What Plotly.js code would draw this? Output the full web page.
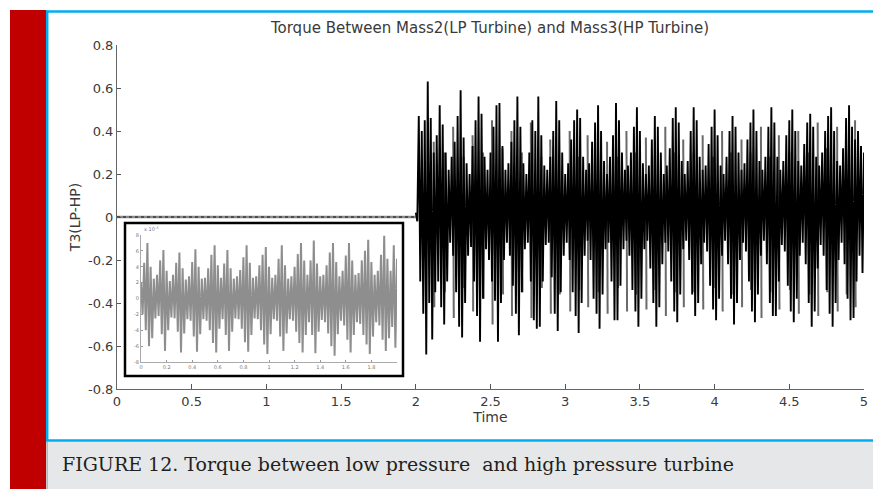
<!DOCTYPE html>
<html>
<head>
<meta charset="utf-8">
<script src="https://cdn.plot.ly/plotly-3.0.1.min.js"></script>
<style>
  html, body { margin: 0; padding: 0; background: #ffffff; }
  #chart { width: 873px; height: 489px; }
</style>
</head>
<body>
<div id="chart"></div>
<script>
// ---------------- data ----------------
const chartTitle = 'Torque Between Mass2(LP Turbine) and Mass3(HP Turbine)';
const xTitle = 'Time';
const yTitle = 'T3(LP-HP)';
const captionText = 'FIGURE 12. Torque between low pressure&nbsp; and high pressure turbine';

const xTickVals = [0, 0.5, 1, 1.5, 2, 2.5, 3, 3.5, 4, 4.5, 5];
const xTickText = ['0', '0.5', '1', '1.5', '2', '2.5', '3', '3.5', '4', '4.5', '5'];
const yTickVals = [-0.8, -0.6, -0.4, -0.2, 0, 0.2, 0.4, 0.6, 0.8];
const yTickText = ['-0.8', '-0.6', '-0.4', '-0.2', '0', '0.2', '0.4', '0.6', '0.8'];

// pre-fault segment (flat at zero)
const preFaultT = [0, 2];
const preFaultV = [0, 0];

// post-fault oscillation: upper / lower excursion of each sample (t = 2.00 ... 5.00, every 0.02 s)
const faultStart = 2.0;
const sampleStep = 0.02;
const sigHi = [
  0.02, 0.47, 0.40, 0.45, 0.63, 0.46, 0.30, 0.38, 0.52, 0.43,
  0.30, 0.22, 0.28, 0.35, 0.47, 0.59, 0.37, 0.25, 0.20, 0.33,
  0.45, 0.56, 0.48, 0.28, 0.22, 0.30, 0.42, 0.52, 0.53, 0.33,
  0.22, 0.25, 0.35, 0.45, 0.56, 0.42, 0.25, 0.20, 0.30, 0.45,
  0.40, 0.56, 0.38, 0.24, 0.22, 0.28, 0.40, 0.54, 0.45, 0.30,
  0.20, 0.25, 0.36, 0.45, 0.50, 0.46, 0.28, 0.22, 0.25, 0.35,
  0.44, 0.52, 0.40, 0.26, 0.20, 0.28, 0.38, 0.53, 0.45, 0.30,
  0.22, 0.24, 0.30, 0.42, 0.51, 0.40, 0.25, 0.20, 0.24, 0.36,
  0.47, 0.42, 0.30, 0.20, 0.24, 0.32, 0.46, 0.51, 0.44, 0.26,
  0.20, 0.26, 0.40, 0.51, 0.45, 0.28, 0.22, 0.24, 0.34, 0.42,
  0.50, 0.38, 0.24, 0.20, 0.28, 0.40, 0.47, 0.42, 0.30, 0.22,
  0.25, 0.36, 0.44, 0.50, 0.40, 0.26, 0.22, 0.28, 0.42, 0.51,
  0.44, 0.28, 0.22, 0.26, 0.38, 0.45, 0.50, 0.40, 0.26, 0.24,
  0.34, 0.44, 0.48, 0.42, 0.28, 0.24, 0.30, 0.40, 0.47, 0.51,
  0.40, 0.26, 0.24, 0.32, 0.46, 0.52, 0.42, 0.36, 0.40, 0.33,
  0.30
];
const sigLo = [
  -0.02, -0.30, -0.45, -0.64, -0.40, -0.57, -0.35, -0.30, -0.42, -0.50,
  -0.30, -0.12, -0.18, -0.35, -0.51, -0.56, -0.40, -0.18, -0.14, -0.30,
  -0.46, -0.58, -0.38, -0.15, -0.20, -0.30, -0.39, -0.58, -0.40, -0.20,
  -0.12, -0.18, -0.32, -0.45, -0.55, -0.35, -0.15, -0.12, -0.30, -0.48,
  -0.52, -0.51, -0.30, -0.13, -0.12, -0.28, -0.45, -0.53, -0.35, -0.18,
  -0.12, -0.20, -0.35, -0.46, -0.54, -0.40, -0.18, -0.11, -0.20, -0.38,
  -0.45, -0.52, -0.36, -0.15, -0.12, -0.30, -0.48, -0.48, -0.32, -0.15,
  -0.11, -0.18, -0.34, -0.44, -0.51, -0.38, -0.15, -0.11, -0.24, -0.40,
  -0.51, -0.42, -0.22, -0.12, -0.16, -0.30, -0.44, -0.49, -0.36, -0.15,
  -0.11, -0.20, -0.36, -0.46, -0.40, -0.22, -0.12, -0.16, -0.32, -0.43,
  -0.48, -0.38, -0.18, -0.11, -0.22, -0.38, -0.50, -0.40, -0.20, -0.12,
  -0.16, -0.30, -0.44, -0.49, -0.36, -0.18, -0.11, -0.22, -0.40, -0.46,
  -0.46, -0.30, -0.13, -0.16, -0.32, -0.44, -0.49, -0.38, -0.18, -0.12,
  -0.22, -0.40, -0.51, -0.44, -0.24, -0.13, -0.18, -0.34, -0.45, -0.51,
  -0.40, -0.20, -0.12, -0.22, -0.38, -0.48, -0.47, -0.30, -0.18, -0.26,
  -0.10
];

// grey secondary swings next to the main spikes
const greyT = [2.12, 2.19, 2.25, 2.32, 2.38, 2.45, 2.51, 2.58, 2.64, 2.71, 2.77, 2.84, 2.90, 2.96, 3.03,
  3.09, 3.15, 3.22, 3.28, 3.35, 3.41, 3.47, 3.54, 3.60, 3.67, 3.73, 3.79, 3.86, 3.92, 3.99,
  4.05, 4.11, 4.18, 4.24, 4.31, 4.37, 4.43, 4.50, 4.56, 4.63, 4.69, 4.75, 4.82, 4.88, 4.94];
const greyHi = [0.35, 0.30, 0.42, 0.28, 0.38, 0.30, 0.45, 0.32, 0.40, 0.30, 0.44, 0.28, 0.36, 0.30, 0.40,
  0.28, 0.38, 0.30, 0.35, 0.28, 0.40, 0.30, 0.37, 0.28, 0.42, 0.30, 0.36, 0.30, 0.38, 0.28,
  0.40, 0.30, 0.36, 0.30, 0.42, 0.28, 0.38, 0.30, 0.40, 0.30, 0.44, 0.32, 0.42, 0.30, 0.45];
const greyLo = [-0.42, -0.35, -0.47, -0.33, -0.44, -0.38, -0.50, -0.36, -0.46, -0.35, -0.47, -0.33, -0.45, -0.36, -0.44,
  -0.34, -0.42, -0.35, -0.45, -0.33, -0.44, -0.36, -0.43, -0.34, -0.46, -0.35, -0.42, -0.35, -0.43, -0.33,
  -0.44, -0.36, -0.42, -0.34, -0.47, -0.35, -0.43, -0.34, -0.45, -0.36, -0.46, -0.35, -0.44, -0.36, -0.42];

// inset (pre-fault detail, x 10^-3): t = 0 ... 2, every 0.025
const insetStep = 0.025;
const insetHi = [
  2.0, 4.5, 7.0, 4.0, 2.5, 3.0, 4.8, 6.1, 3.5, 2.2,
  3.0, 4.5, 5.8, 3.8, 2.4, 2.8, 4.6, 6.2, 4.0, 2.5,
  2.6, 3.8, 5.5, 6.7, 4.2, 2.6, 4.4, 6.1, 3.8, 2.5,
  2.8, 3.6, 5.2, 6.7, 4.5, 2.6, 2.8, 4.2, 5.5, 6.5,
  4.0, 2.6, 3.0, 5.0, 6.7, 4.2, 2.5, 2.8, 4.0, 5.6,
  7.0, 4.8, 3.0, 4.8, 7.3, 4.4, 2.8, 3.0, 4.2, 5.8,
  7.0, 4.6, 2.8, 3.5, 5.4, 7.0, 4.8, 3.0, 3.2, 4.8,
  6.0, 7.4, 4.6, 3.0, 3.5, 5.5, 7.9, 5.0, 3.5, 6.7,
  5.0
];
const insetLo = [
  -2.0, -4.0, -6.0, -5.0, -2.5, -2.2, -4.5, -6.6, -4.0, -2.4,
  -2.5, -4.2, -6.8, -4.4, -2.6, -2.8, -4.8, -6.7, -4.5, -2.6,
  -2.8, -4.0, -5.6, -6.8, -3.8, -2.6, -4.6, -6.6, -4.2, -2.5,
  -2.6, -3.8, -5.5, -6.7, -4.6, -2.5, -2.6, -4.0, -5.8, -7.0,
  -4.5, -2.6, -2.8, -4.8, -6.6, -4.4, -2.6, -2.8, -4.2, -5.6,
  -6.8, -4.6, -3.0, -4.6, -6.9, -4.2, -2.7, -3.0, -4.4, -6.0,
  -7.2, -4.5, -2.8, -3.4, -5.2, -6.8, -4.6, -3.0, -3.2, -4.6,
  -5.8, -7.0, -4.8, -3.0, -3.4, -5.2, -6.6, -5.0, -3.6, -6.2,
  -5.0
];
const insetXTickVals = [0, 0.2, 0.4, 0.6, 0.8, 1, 1.2, 1.4, 1.6, 1.8];
const insetXTickText = ['0', '0.2', '0.4', '0.6', '0.8', '1', '1.2', '1.4', '1.6', '1.8'];
const insetYTickVals = [-8, -6, -4, -2, 0, 2, 4, 6, 8];
const insetYTickText = ['-8', '-6', '-4', '-2', '0', '2', '4', '6', '8'];

// ---------------- build traces ----------------
const sigX = [], sigY = [];
sigHi.forEach((h, i) => {
  const t = faultStart + i * sampleStep;
  sigX.push(t, t + sampleStep / 2);
  sigY.push(h, sigLo[i]);
});
const gX = [], gY = [];
greyT.forEach((t, k) => {
  gX.push(t, t + 0.004, null);
  gY.push(greyHi[k], greyLo[k], null);
});
const inX = [], inY = [];
insetHi.forEach((h, i) => {
  const t = i * insetStep;
  inX.push(t, t + insetStep / 2);
  inY.push(h, insetLo[i]);
});

const traces = [
  { x: preFaultT, y: preFaultV, mode: 'lines', line: { color: '#8a8a8a', width: 2.5 }, hoverinfo: 'skip' },
  { x: preFaultT, y: preFaultV, mode: 'lines', line: { color: '#3a3a3a', width: 1.5, dash: 'dot' }, hoverinfo: 'skip' },
  { x: gX, y: gY, mode: 'lines', line: { color: '#6a6a6a', width: 2 }, connectgaps: false, hoverinfo: 'skip' },
  { x: sigX, y: sigY, mode: 'lines', line: { color: '#000000', width: 1.9 }, hoverinfo: 'skip' },
  { x: inX, y: inY, xaxis: 'x2', yaxis: 'y2', mode: 'lines', line: { color: '#8e8e8e', width: 2 }, hoverinfo: 'skip' }
];

// ---------------- layout ----------------
const W = 873, H = 489;
const M = { l: 117, r: 9, t: 45, b: 100 };
const PW = W - M.l - M.r, PH = H - M.t - M.b;
const xp = px => (px - M.l) / PW;
const yp = py => (H - M.b - py) / PH;

const tickFont = { family: 'DejaVu Sans, Arial, sans-serif', size: 13, color: '#3a3a3a' };
const tinyFont = { family: 'DejaVu Sans, Arial, sans-serif', size: 5, color: '#777777' };

const layout = {
  width: W, height: H,
  margin: { l: M.l, r: M.r, t: M.t, b: M.b, pad: 0 },
  paper_bgcolor: '#ffffff',
  plot_bgcolor: '#ffffff',
  showlegend: false,
  title: {
    text: chartTitle,
    font: { family: 'DejaVu Sans, Arial, sans-serif', size: 15, color: '#3a3a3a' },
    xref: 'container', yref: 'container',
    x: 490 / W, xanchor: 'center',
    y: 1 - 28 / H, yanchor: 'middle'
  },
  xaxis: {
    domain: [0, 1], range: [0, 5], anchor: 'y',
    tickmode: 'array', tickvals: xTickVals, ticktext: xTickText,
    ticks: 'inside', ticklen: 5, tickcolor: '#555555', tickwidth: 1,
    showline: true, linecolor: '#666666', linewidth: 1, mirror: false,
    showgrid: false, zeroline: false,
    tickfont: tickFont,
    title: { text: xTitle, font: { family: 'DejaVu Sans, Arial, sans-serif', size: 14, color: '#3a3a3a' }, standoff: 4 }
  },
  yaxis: {
    domain: [0, 1], range: [-0.8, 0.8], anchor: 'x',
    tickmode: 'array', tickvals: yTickVals, ticktext: yTickText,
    ticks: 'inside', ticklen: 4, tickcolor: '#555555', tickwidth: 1,
    showline: true, linecolor: '#666666', linewidth: 1, mirror: false,
    showgrid: false, zeroline: false,
    tickfont: tickFont,
    title: { text: yTitle, font: { family: 'DejaVu Sans, Arial, sans-serif', size: 14, color: '#3a3a3a' }, standoff: 4 }
  },
  xaxis2: {
    domain: [xp(141), xp(397)], range: [0, 2], anchor: 'y2',
    tickmode: 'array', tickvals: insetXTickVals, ticktext: insetXTickText,
    ticks: 'inside', ticklen: 2, tickcolor: '#999999',
    showline: true, linecolor: '#aaaaaa', linewidth: 1,
    showgrid: false, zeroline: false, tickfont: tinyFont
  },
  yaxis2: {
    domain: [yp(362), yp(235)], range: [-8, 8], anchor: 'x2',
    tickmode: 'array', tickvals: insetYTickVals, ticktext: insetYTickText,
    ticks: 'inside', ticklen: 2, tickcolor: '#999999',
    showline: true, linecolor: '#aaaaaa', linewidth: 1,
    showgrid: false, zeroline: false, tickfont: tinyFont
  },
  shapes: [
    // red side bar
    { type: 'rect', xref: 'paper', yref: 'paper', x0: xp(10), x1: xp(46), y0: yp(489), y1: yp(10),
      fillcolor: '#c00000', line: { width: 0 }, layer: 'above' },
    // caption box
    { type: 'rect', xref: 'paper', yref: 'paper', x0: xp(47), x1: xp(873), y0: yp(489), y1: yp(441.5),
      fillcolor: '#e6e7e8', line: { width: 0 }, layer: 'above' },
    { type: 'line', xref: 'paper', yref: 'paper', x0: xp(47), x1: xp(47), y0: yp(489), y1: yp(441),
      line: { color: '#8a8a8a', width: 1 }, layer: 'above' },
    // blue frame
    { type: 'line', xref: 'paper', yref: 'paper', x0: xp(46), x1: xp(873), y0: yp(11.5), y1: yp(11.5),
      line: { color: '#00aeef', width: 2.5 }, layer: 'above' },
    { type: 'line', xref: 'paper', yref: 'paper', x0: xp(47.2), x1: xp(47.2), y0: yp(441), y1: yp(10.5),
      line: { color: '#00aeef', width: 2.5 }, layer: 'above' },
    { type: 'line', xref: 'paper', yref: 'paper', x0: xp(46), x1: xp(873), y0: yp(440.5), y1: yp(440.5),
      line: { color: '#00aeef', width: 2.5 }, layer: 'above' },
    // inset frame
    { type: 'rect', xref: 'paper', yref: 'paper', x0: xp(125), x1: xp(403), y0: yp(376), y1: yp(223),
      fillcolor: '#ffffff', line: { color: '#000000', width: 2.5 }, layer: 'below' }
  ],
  annotations: [
    { text: captionText, xref: 'paper', yref: 'paper', x: xp(60), y: yp(464), xanchor: 'left', yanchor: 'middle',
      showarrow: false, font: { family: 'DejaVu Serif, Liberation Serif, serif', size: 19, color: '#231f20' } },
    { text: 'x 10<sup>-3</sup>', xref: 'paper', yref: 'paper', x: xp(142), y: yp(229), xanchor: 'left', yanchor: 'middle',
      showarrow: false, font: tinyFont }
  ]
};

Plotly.newPlot('chart', traces, layout, { staticPlot: true, displayModeBar: false });
</script>
</body>
</html>
